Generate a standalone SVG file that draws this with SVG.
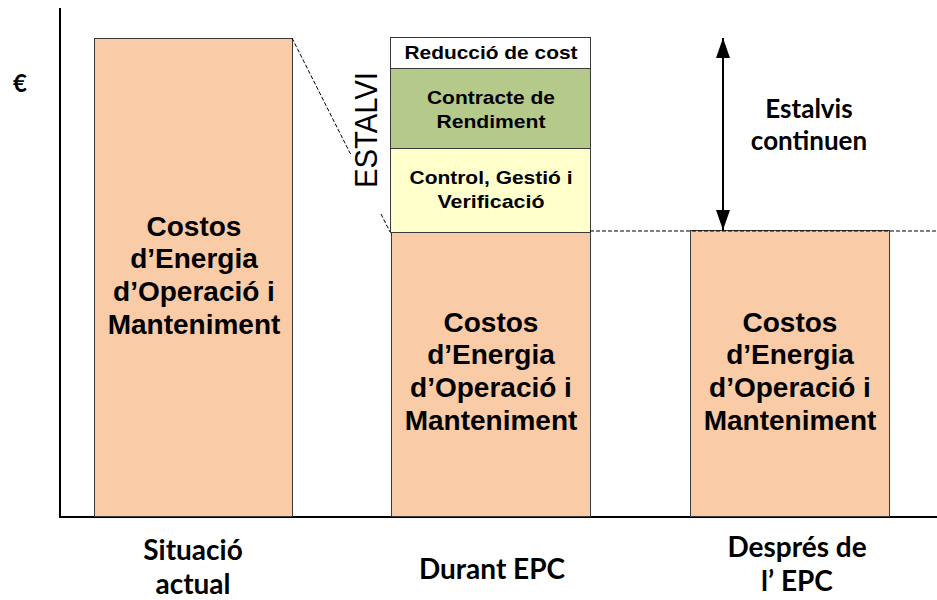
<svg xmlns="http://www.w3.org/2000/svg" width="937" height="600" viewBox="0 0 937 600">
<style>
.bar{fill:#F9CBA7;stroke:#3a3a3a;stroke-width:1}
.big{font-family:"Liberation Sans",Arial,sans-serif;font-weight:bold;font-size:28px;text-anchor:middle;fill:#000}
.box{font-family:"Liberation Sans",Arial,sans-serif;font-weight:bold;font-size:18.5px;text-anchor:middle;fill:#000}
.cal{font-family:Lato,"Open Sans",sans-serif;font-weight:bold;font-size:28px;text-anchor:middle;fill:#000}
.mid{font-size:26px}
.dash{fill:none;stroke:#000;stroke-width:1;stroke-dasharray:4 2}
</style>
<defs>
<marker id="arr" viewBox="0 0 20 14" refX="20" refY="7" markerWidth="20" markerHeight="14" orient="auto" markerUnits="userSpaceOnUse">
<path d="M0,0 L20,7 L0,14 Z" fill="#000"/>
</marker>
</defs>
<rect width="937" height="600" fill="#fff"/>
<g id="axes">
<line x1="60" y1="8" x2="60" y2="517" stroke="#000" stroke-width="2"/>
<line x1="59" y1="517" x2="937" y2="517" stroke="#000" stroke-width="2"/>
<text x="20" y="92" class="cal" style="font-size:24px">€</text>
</g>
<g id="bar1">
<rect class="bar" x="94.5" y="38.5" width="198" height="478"/>
<text class="big" x="194" y="236">Costos</text>
<text class="big" x="194" y="268">d’Energia</text>
<text class="big" x="194" y="301">d’Operació i</text>
<text class="big" x="194" y="334">Manteniment</text>
</g>
<g id="bar2">
<rect class="bar" x="391.5" y="232.5" width="199" height="284"/>
<text class="big" x="491" y="332">Costos</text>
<text class="big" x="491" y="364">d’Energia</text>
<text class="big" x="491" y="397">d’Operació i</text>
<text class="big" x="491" y="430">Manteniment</text>
</g>
<g id="reduccio">
<rect x="390.5" y="37.5" width="200" height="31" fill="#fff" stroke="#3a3a3a"/>
<text class="box" x="491" y="59" textLength="173" lengthAdjust="spacingAndGlyphs">Reducció de cost</text>
</g>
<g id="contracte">
<rect x="390.5" y="68.5" width="200" height="80" fill="#B5C98B" stroke="#3a3a3a"/>
<text class="box" x="491" y="104" textLength="128" lengthAdjust="spacingAndGlyphs">Contracte de</text>
<text class="box" x="491" y="128" textLength="109" lengthAdjust="spacingAndGlyphs">Rendiment</text>
</g>
<g id="control">
<rect x="390.5" y="148.5" width="200" height="84" fill="#FFFFCC" stroke="#3a3a3a"/>
<text class="box" x="491" y="184" textLength="163" lengthAdjust="spacingAndGlyphs">Control, Gestió i</text>
<text class="box" x="491" y="208" textLength="107" lengthAdjust="spacingAndGlyphs">Verificació</text>
</g>
<g id="bar3">
<rect class="bar" x="690.5" y="230.5" width="199" height="286"/>
<text class="big" x="790" y="332">Costos</text>
<text class="big" x="790" y="364">d’Energia</text>
<text class="big" x="790" y="397">d’Operació i</text>
<text class="big" x="790" y="430">Manteniment</text>
</g>
<g id="connectors">
<line class="dash" x1="292" y1="38" x2="351" y2="155"/>
<line class="dash" x1="381" y1="214" x2="390" y2="232"/>
<line class="dash" x1="590" y1="231" x2="937" y2="231"/>
<line x1="723" y1="130" x2="723" y2="38" stroke="#000" stroke-width="2" marker-end="url(#arr)"/>
<line x1="723" y1="130" x2="723" y2="230" stroke="#000" stroke-width="2" marker-end="url(#arr)"/>
</g>
<g id="labels">
<text x="0" y="0" transform="translate(377,130) rotate(-90)" font-family="Liberation Sans,Arial,sans-serif" font-size="32" text-anchor="middle" textLength="116" lengthAdjust="spacingAndGlyphs">ESTALVI</text>
<text class="cal mid" x="809" y="118">Estalvis</text>
<text class="cal mid" x="809" y="150">continuen</text>
<text class="cal" x="193" y="560">Situació</text>
<text class="cal" x="193" y="594">actual</text>
<text class="cal" x="492" y="579">Durant EPC</text>
<text class="cal" x="797" y="557">Després de</text>
<text class="cal" x="797" y="591">l’ EPC</text>
</g>
</svg>
